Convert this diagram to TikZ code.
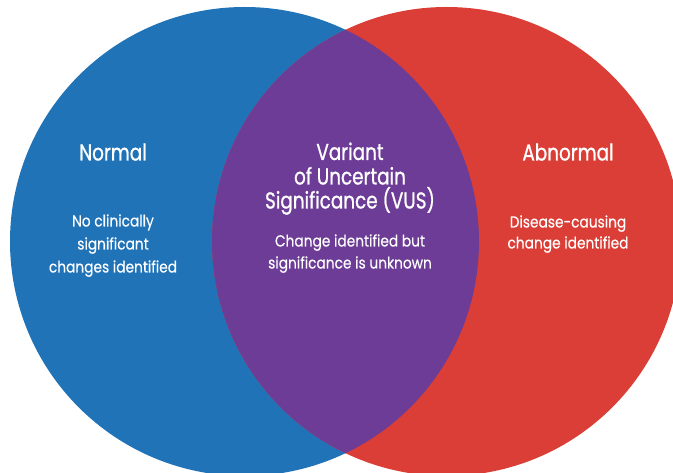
\documentclass[tikz,border=0pt]{standalone}
\usepackage{fontspec}
\setmainfont{Poppins}[FakeStretch=0.85]
\newfontfamily\titlefont{Poppins}[FakeStretch=0.8,FakeBold=0.9]
\newfontfamily\bodyfont{Poppins}[FakeStretch=0.86,FakeBold=0.3]
\definecolor{vblue}{RGB}{33,115,184}
\definecolor{vred}{RGB}{218,62,54}
\definecolor{vpurple}{RGB}{108,60,150}
\begin{document}
\begin{tikzpicture}[x=1pt,y=-1pt,
  title/.style={text=white,font=\titlefont\fontsize{23}{25}\selectfont,anchor=base,inner sep=0pt},
  body/.style={text=white,font=\bodyfont\fontsize{16}{18}\selectfont,anchor=base,inner sep=0pt}]
\useasboundingbox (0,0) rectangle (673,473);
\begin{scope}
\clip (0,0) rectangle (673,473);
\fill[vblue] (244.5,241.5) circle[radius=234.5];
\fill[vred] (446.5,241.5) circle[radius=234.5];
\begin{scope}
\clip (244.5,241.5) circle[radius=234.5];
\fill[vpurple] (446.5,241.5) circle[radius=234.5];
\end{scope}
\end{scope}
% left
\node[title] (normal) at (113,160.5) {Normal};
\node[body] (l1) at (113,226.5) {No clinically};
\node[body] (l2) at (113,249.5) {significant};
\node[body] (l3) at (113,272.5) {changes identified};
% middle
\node[title] (m1) at (350,160) {Variant};
\node[title] (m2) at (350,184.5) {of Uncertain};
\node[title] (m3) at (350,208.5) {Significance (VUS)};
\node[body] (m4) at (350,246.5) {Change identified but};
\node[body] (m5) at (350,268.5) {significance is unknown};
% right
\node[title] (abn) at (568,160.5) {Abnormal};
\node[body] (r1) at (568,227.5) {Disease-causing};
\node[body] (r2) at (568,248.5) {change identified};
\end{tikzpicture}
\end{document}
